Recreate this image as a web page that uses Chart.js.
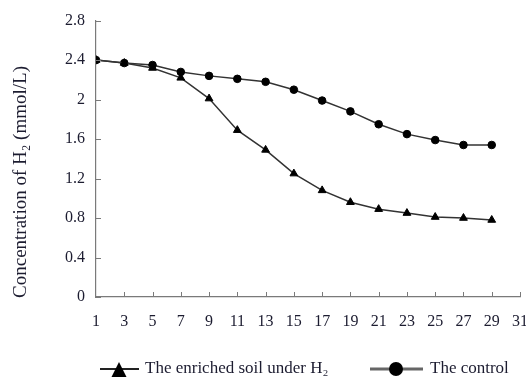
<!DOCTYPE html>
<html>
<head>
<meta charset="utf-8">
<script src="https://cdn.jsdelivr.net/npm/chart.js@4"></script>
<style>
  html, body { margin: 0; padding: 0; background: #fff; overflow: hidden; }
  #wrap { width: 543px; height: 377px; }
</style>
</head>
<body>
<div id="wrap"><canvas id="myChart" width="543" height="377"></canvas></div>
<script>
// sampling days (x) and H2 concentration (mmol/L)
const days       = [1, 3, 5, 7, 9, 11, 13, 15, 17, 19, 21, 23, 25, 27, 29];
const enriched   = [2.40, 2.37, 2.32, 2.22, 2.01, 1.69, 1.49, 1.25, 1.08, 0.96, 0.89, 0.85, 0.81, 0.80, 0.78];
const control    = [2.40, 2.37, 2.35, 2.28, 2.24, 2.21, 2.18, 2.10, 1.99, 1.88, 1.75, 1.65, 1.59, 1.54, 1.54];
const seriesNames = ['The enriched soil under H\u2082', 'The control'];
const yTitle     = 'Concentration of H\u2082 (mmol/L)';

const textColor = '#1c1c30';
const axisColor = '#7a7a7a';
const serif = "'Liberation Serif', 'Times New Roman', serif";

function toPoints(values)
{
    let pts = [];
    for (let i = 0; i < days.length; i++) {
        pts.push({x: days[i], y: values[i]});
    }
    return pts;
}

// inward tick marks, rotated y title and the bottom legend
const extras = {
    id: 'extras',
    afterDraw(chart) {
        const ctx = chart.ctx;
        const xs = chart.scales.x;
        const ys = chart.scales.y;
        ctx.save();
        ctx.strokeStyle = axisColor;
        ctx.lineWidth = 1;
        ctx.beginPath();
        for (let i = 0; i < ys.ticks.length; i++) {
            const py = Math.round(ys.getPixelForTick(i)) + 0.5;
            ctx.moveTo(ys.right, py);
            ctx.lineTo(ys.right + 5, py);
        }
        for (let i = 1; i < xs.ticks.length; i++) {
            const px = Math.round(xs.getPixelForTick(i)) + 0.5;
            ctx.moveTo(px, xs.top);
            ctx.lineTo(px, xs.top - 5);
        }
        ctx.stroke();

        // y title
        ctx.fillStyle = textColor;
        ctx.font = '19px ' + serif;
        ctx.textAlign = 'center';
        ctx.textBaseline = 'middle';
        ctx.translate(21, 182);
        ctx.rotate(-Math.PI / 2);
        ctx.fillText(yTitle, 0, 0);
        ctx.restore();

        // legend
        ctx.save();
        const ly = 369;
        ctx.strokeStyle = '#222';
        ctx.lineWidth = 2;
        ctx.beginPath();
        ctx.moveTo(100, ly); ctx.lineTo(139, ly);
        ctx.stroke();
        ctx.fillStyle = '#000';
        ctx.beginPath();
        ctx.moveTo(119, 362); ctx.lineTo(126.5, 377); ctx.lineTo(111.5, 377);
        ctx.closePath();
        ctx.fill();

        ctx.strokeStyle = '#666';
        ctx.lineWidth = 3;
        ctx.beginPath();
        ctx.moveTo(370, ly); ctx.lineTo(423, ly);
        ctx.stroke();
        ctx.beginPath();
        ctx.arc(396, ly, 7, 0, Math.PI * 2);
        ctx.fill();

        ctx.fillStyle = textColor;
        ctx.font = '17px ' + serif;
        ctx.textAlign = 'left';
        ctx.textBaseline = 'middle';
        ctx.fillText(chart.data.datasets[0].label, 145, ly);
        ctx.fillText(chart.data.datasets[1].label, 430, ly);
        ctx.restore();
    }
};

const ctx = document.getElementById('myChart').getContext('2d');
const myChart = new Chart(ctx, {
    type: 'line',
    data: {
        datasets: [{
            label: seriesNames[0],
            data: toPoints(enriched),
            borderColor: '#333',
            borderWidth: 1.5,
            pointStyle: 'triangle',
            pointRadius: 4.5,
            pointBackgroundColor: '#000',
            pointBorderColor: '#000',
            pointBorderWidth: 1,
            tension: 0
        }, {
            label: seriesNames[1],
            data: toPoints(control),
            borderColor: '#333',
            borderWidth: 1.5,
            pointStyle: 'circle',
            pointRadius: 3.8,
            pointBackgroundColor: '#000',
            pointBorderColor: '#000',
            pointBorderWidth: 1,
            tension: 0
        }]
    },
    options: {
        responsive: false,
        animation: false,
        events: [],
        layout: { padding: { left: 0, right: 13, top: 19, bottom: 0 } },
        plugins: {
            legend: { display: false },
            tooltip: { enabled: false }
        },
        scales: {
            x: {
                type: 'linear',
                min: 1,
                max: 31,
                afterFit: function(scale) { scale.height = 80; },
                grid: { display: false, drawTicks: false },
                border: { display: true, color: axisColor, width: 1.2 },
                ticks: {
                    stepSize: 2,
                    padding: 15,
                    maxRotation: 0,
                    autoSkip: false,
                    color: textColor,
                    font: { family: serif, size: 16 }
                }
            },
            y: {
                min: 0,
                max: 2.8,
                afterFit: function(scale) { scale.width = 96; },
                grid: { display: false, drawTicks: false },
                border: { display: true, color: axisColor, width: 1.2 },
                ticks: {
                    stepSize: 0.4,
                    padding: 11,
                    color: textColor,
                    font: { family: serif, size: 16 },
                    callback: function(value) { return String(Number(value.toFixed(1))); }
                }
            }
        }
    },
    plugins: [extras]
});
</script>
</body>
</html>
